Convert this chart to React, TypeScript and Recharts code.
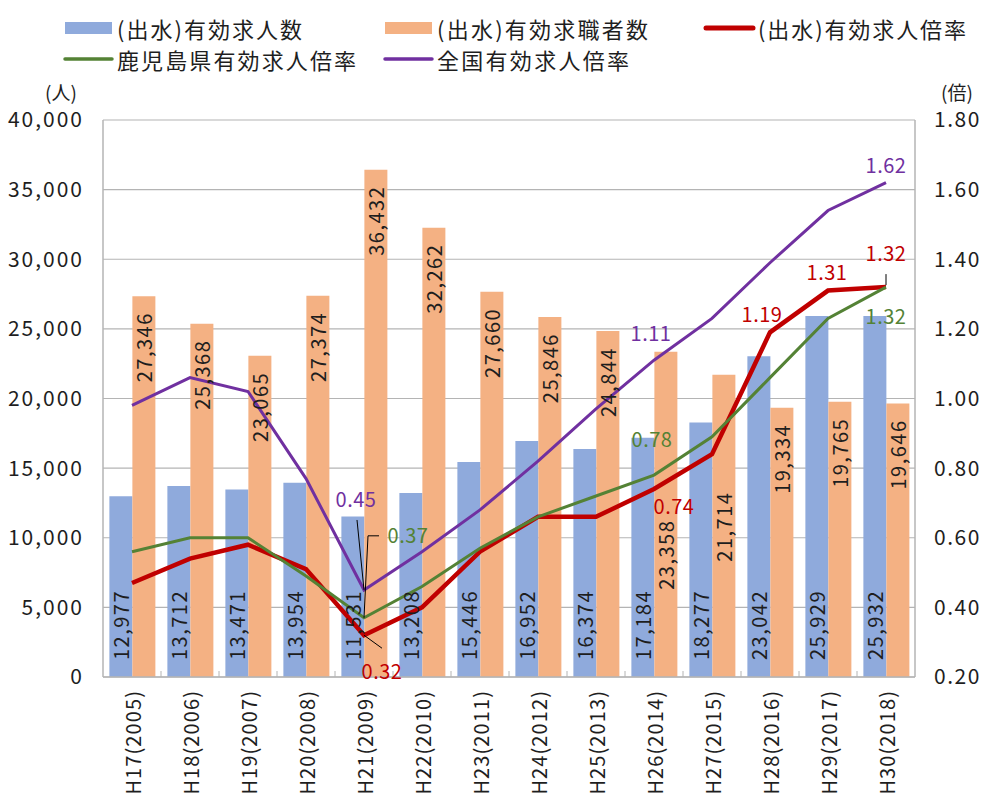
import React from 'react';
import {
  ComposedChart,
  Bar,
  Line,
  XAxis,
  YAxis,
  CartesianGrid,
  LabelList,
} from 'recharts';

const categories = [
  'H17(2005)', 'H18(2006)', 'H19(2007)', 'H20(2008)', 'H21(2009)', 'H22(2010)', 'H23(2011)',
  'H24(2012)', 'H25(2013)', 'H26(2014)', 'H27(2015)', 'H28(2016)', 'H29(2017)', 'H30(2018)',
];
// (出水)有効求人数
const openings = [12977, 13712, 13471, 13954, 11531, 13208, 15446, 16952, 16374, 17184, 18277, 23042, 25929, 25932];
// (出水)有効求職者数
const seekers = [27346, 25368, 23065, 27374, 36432, 32262, 27660, 25846, 24844, 23358, 21714, 19334, 19765, 19646];
// (出水)有効求人倍率
const izumiRate = [0.47, 0.54, 0.58, 0.51, 0.32, 0.40, 0.56, 0.66, 0.66, 0.74, 0.84, 1.19, 1.31, 1.32];
// 鹿児島県有効求人倍率
const kagoshimaRate = [0.56, 0.60, 0.60, 0.49, 0.37, 0.46, 0.57, 0.66, 0.72, 0.78, 0.89, 1.06, 1.23, 1.32];
// 全国有効求人倍率
const nationalRate = [0.98, 1.06, 1.02, 0.77, 0.45, 0.56, 0.68, 0.82, 0.97, 1.11, 1.23, 1.39, 1.54, 1.62];

const leftTicks = [0, 5000, 10000, 15000, 20000, 25000, 30000, 35000, 40000];
const rightTicks = [0.2, 0.4, 0.6, 0.8, 1.0, 1.2, 1.4, 1.6, 1.8];

const data = categories.map((cat, i) => ({
  cat,
  openings: openings[i],
  seekers: seekers[i],
  izumi: izumiRate[i],
  kagoshima: kagoshimaRate[i],
  national: nationalRate[i],
}));

const FONT = '"Noto Sans CJK JP", "Noto Sans", sans-serif';
const BLUE = '#8faadc';
const ORANGE = '#f4b183';
const RED = '#c00000';
const GREEN = '#548235';
const PURPLE = '#7030a0';
const GRID = '#b4b4b4';
const INK = '#1e1e1e';

// which points get a label, and where it sits relative to the point
type Spot = { dx: number; dy: number; leader?: number[][] };
const redSpots: Record<number, Spot> = {
  4: { dx: 18, dy: 35, leader: [[0, 0], [18, 13]] },
  9: { dx: 20, dy: 16 },
  11: { dx: -8, dy: -19 },
  12: { dx: -1, dy: -19 },
  13: { dx: 0, dy: -35, leader: [[0, -13], [0, -2]] },
};
const greenSpots: Record<number, Spot> = {
  4: { dx: 44, dy: -83, leader: [[15, -82], [4, -82], [0, 0]] },
  9: { dx: -2, dy: -37 },
  13: { dx: 0, dy: 28 },
};
const purpleSpots: Record<number, Spot> = {
  4: { dx: -8, dy: -91, leader: [[-7, -70], [0, 0]] },
  9: { dx: -3, dy: -28 },
  13: { dx: 0, dy: -18 },
};

// orange labels that were pushed down below the lines
const seekerLabelDrop: Record<number, number> = { 9: 168, 10: 117 };

const rateLabel = (spots: Record<number, Spot>, color: string) => (props: any) => {
  const { x, y, value, index } = props;
  const s = spots[index];
  if (!s) return null;
  return (
    <g>
      {s.leader && (
        <polyline
          points={s.leader.map(([a, b]) => `${x + a},${y + b}`).join(' ')}
          fill="none"
          stroke="#000"
          strokeWidth={1}
        />
      )}
      <text
        x={x + s.dx}
        y={y + s.dy}
        textAnchor="middle"
        dominantBaseline="central"
        fill={color}
        fontSize={20}
        letterSpacing={0.5}
        fontFamily={FONT}
      >
        {Number(value).toFixed(2)}
      </text>
    </g>
  );
};

const BottomLabel = (props: any) => {
  const { x, y, width, height, value } = props;
  const cx = x + width / 2;
  const by = y + height - 17;
  return (
    <text
      x={cx}
      y={by}
      transform={`rotate(-90, ${cx}, ${by})`}
      textAnchor="start"
      dominantBaseline="central"
      fill={INK}
      fontSize={20}
      letterSpacing={1.5}
      fontFamily={FONT}
    >
      {Number(value).toLocaleString('en-US')}
    </text>
  );
};

const TopLabel = (props: any) => {
  const { x, y, width, value, index } = props;
  const cx = x + width / 2;
  const ty = y + (seekerLabelDrop[index] ?? 16);
  return (
    <text
      x={cx}
      y={ty}
      transform={`rotate(-90, ${cx}, ${ty})`}
      textAnchor="end"
      dominantBaseline="central"
      fill={INK}
      fontSize={20}
      letterSpacing={1.5}
      fontFamily={FONT}
    >
      {Number(value).toLocaleString('en-US')}
    </text>
  );
};

const CategoryTick = (props: any) => {
  const { x, y, payload, index } = props;
  const ty = y + 13;
  return (
    <g>
      {index < categories.length - 1 && (
        <line x1={x + 29} x2={x + 29} y1={y - 6} y2={y} stroke={GRID} strokeWidth={1} />
      )}
      <text
        x={x}
        y={ty}
        transform={`rotate(-90, ${x}, ${ty})`}
        textAnchor="end"
        dominantBaseline="central"
        fill={INK}
        fontSize={20}
        letterSpacing={1.1}
        fontFamily={FONT}
      >
        {payload.value}
      </text>
    </g>
  );
};

const legendItems = [
  { name: '(出水)有効求人数', kind: 'bar', color: BLUE, x: 65, tx: 117, y: 28, w: 185 },
  { name: '(出水)有効求職者数', kind: 'bar', color: ORANGE, x: 385, tx: 437, y: 28, w: 211 },
  { name: '(出水)有効求人倍率', kind: 'line', color: RED, x: 706, tx: 758, y: 28, w: 208, sw: 5 },
  { name: '鹿児島県有効求人倍率', kind: 'line', color: GREEN, x: 65, tx: 117, y: 59, w: 239, sw: 3.5 },
  { name: '全国有効求人倍率', kind: 'line', color: PURPLE, x: 385, tx: 437, y: 59, w: 192, sw: 3.5 },
];

const Overlay = () => (
  <svg
    width={982}
    height={807}
    style={{ position: 'absolute', left: 0, top: 0, pointerEvents: 'none' }}
  >
    {legendItems.map((it) => (
      <g key={it.name}>
        {it.kind === 'bar' ? (
          <rect x={it.x} y={it.y - 6} width={47} height={12} fill={it.color} />
        ) : (
          <line x1={it.x} x2={it.x + 47} y1={it.y} y2={it.y} stroke={it.color} strokeWidth={it.sw} strokeLinecap="round" />
        )}
        <text
          x={it.tx}
          y={it.y}
          dominantBaseline="central"
          fontSize={22}
          fontFamily={FONT}
          fill={INK}
          textLength={it.w}
          lengthAdjust="spacing"
        >
          {it.name}
        </text>
      </g>
    ))}
    <text x={61} y={91} textAnchor="middle" dominantBaseline="central" fontSize={19} fontFamily={FONT} fill={INK}>
      (人)
    </text>
    <text x={957} y={91} textAnchor="middle" dominantBaseline="central" fontSize={19} fontFamily={FONT} fill={INK}>
      (倍)
    </text>
  </svg>
);

export default function App() {
  return (
    <div style={{ position: 'absolute', left: 0, top: 0, width: 982, height: 807, background: '#fff' }}>
      <ComposedChart
        width={982}
        height={807}
        data={data}
        margin={{ top: 120, right: 0, bottom: 0, left: 0 }}
        barCategoryGap="11%"
        barGap={0}
      >
        <CartesianGrid yAxisId="left" vertical={false} stroke={GRID} strokeWidth={1.2} />
        <XAxis
          dataKey="cat"
          height={130}
          interval={0}
          tickLine={false}
          tickSize={0}
          tickMargin={0}
          axisLine={{ stroke: GRID, strokeWidth: 1.5 }}
          tick={<CategoryTick />}
        />
        <YAxis
          yAxisId="left"
          width={103}
          domain={[0, 40000]}
          ticks={leftTicks}
          tickFormatter={(v: number) => v.toLocaleString('en-US')}
          tickLine={false}
          tickSize={0}
          tickMargin={19}
          axisLine={{ stroke: GRID, strokeWidth: 1.5 }}
          tick={{ fill: INK, fontSize: 21, fontFamily: FONT, letterSpacing: 2 }}
        />
        <YAxis
          yAxisId="right"
          orientation="right"
          width={67}
          domain={[0.2, 1.8]}
          ticks={rightTicks}
          tickFormatter={(v: number) => v.toFixed(2)}
          tickLine={false}
          tickSize={0}
          tickMargin={19}
          axisLine={{ stroke: GRID, strokeWidth: 1.5 }}
          tick={{ fill: INK, fontSize: 21, fontFamily: FONT, letterSpacing: 1.5 }}
        />
        <Bar yAxisId="left" dataKey="openings" fill={BLUE} isAnimationActive={false}>
          <LabelList dataKey="openings" content={<BottomLabel />} />
        </Bar>
        <Bar yAxisId="left" dataKey="seekers" fill={ORANGE} isAnimationActive={false}>
          <LabelList dataKey="seekers" content={<TopLabel />} />
        </Bar>
        <Line
          yAxisId="right"
          dataKey="izumi"
          stroke={RED}
          strokeWidth={4.5}
          dot={false}
          isAnimationActive={false}
        >
          <LabelList dataKey="izumi" content={rateLabel(redSpots, RED)} />
        </Line>
        <Line
          yAxisId="right"
          dataKey="kagoshima"
          stroke={GREEN}
          strokeWidth={3}
          dot={false}
          isAnimationActive={false}
        >
          <LabelList dataKey="kagoshima" content={rateLabel(greenSpots, GREEN)} />
        </Line>
        <Line
          yAxisId="right"
          dataKey="national"
          stroke={PURPLE}
          strokeWidth={3}
          dot={false}
          isAnimationActive={false}
        >
          <LabelList dataKey="national" content={rateLabel(purpleSpots, PURPLE)} />
        </Line>
      </ComposedChart>
      <Overlay />
    </div>
  );
}
